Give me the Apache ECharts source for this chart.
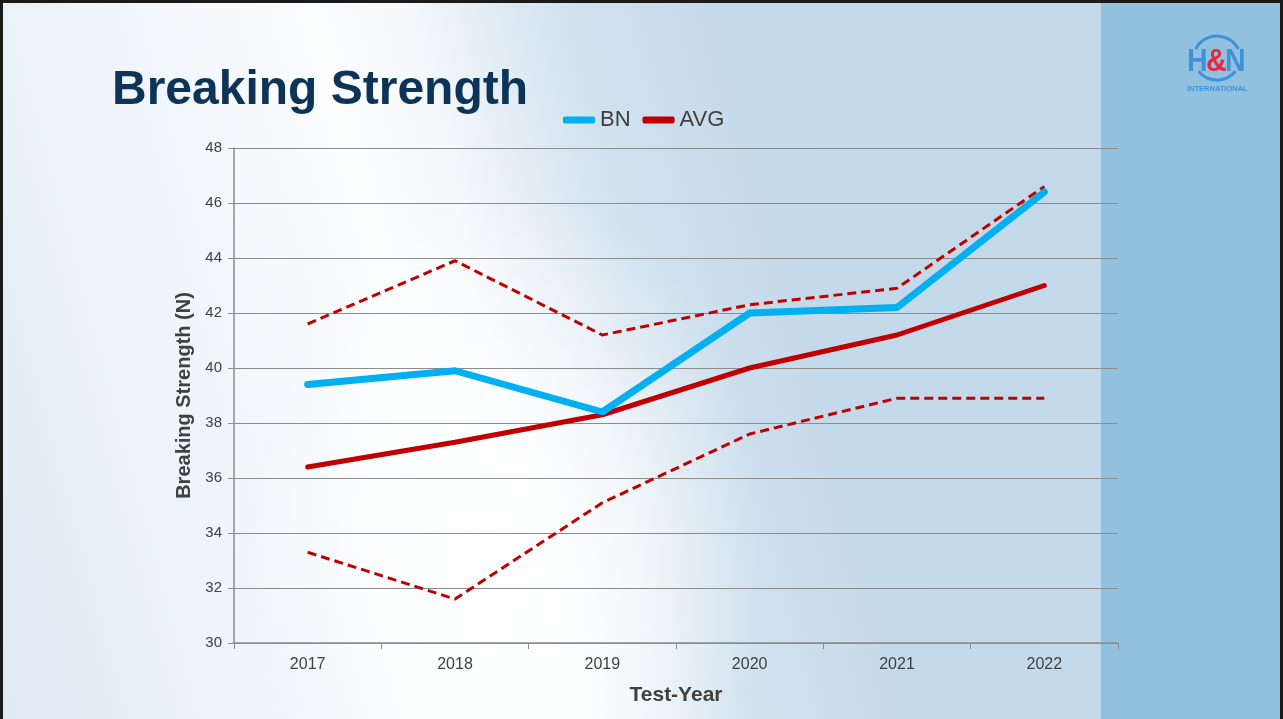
<!DOCTYPE html>
<html>
<head>
<meta charset="utf-8">
<script src="https://cdn.jsdelivr.net/npm/echarts@6/dist/echarts.min.js"></script>
<style>
  html, body { margin: 0; padding: 0; }
  #wrap {
    position: relative; width: 1283px; height: 719px; overflow: hidden; box-sizing: border-box;
    border: 3px solid #1a1a1a; border-bottom: none;
    background:
      radial-gradient(ellipse 260px 380px at 500px 560px, rgba(255,255,255,0.95) 0%, rgba(255,255,255,0.6) 50%, rgba(255,255,255,0) 100%),
      linear-gradient(75deg, #dfeaf5 0%, #eef4fa 18%, #fbfdfe 34%, #f6f9fc 40%, #d4e4f0 50%, #c4d9e9 62%, #c3d8e8 100%);
  }
  #side { position: absolute; left: 1098px; top: 0; width: 190px; height: 719px; background: #92c1e0; }
  #main { position: absolute; left: -3px; top: -3px; width: 1283px; height: 719px; }
</style>
</head>
<body>
<div id="wrap"><div id="side"></div><div id="main"></div></div>
<script>
(function () {
    // 数据
    let years = ['2017', '2018', '2019', '2020', '2021', '2022'];
    let bn = [39.4, 39.9, 38.4, 42.0, 42.2, 46.4];
    let avg = [36.4, 37.3, 38.3, 40.0, 41.2, 43.0];
    let upper = [41.6, 43.9, 41.2, 42.3, 42.9, 46.6];
    let lower = [33.3, 31.6, 35.1, 37.6, 38.9, 38.9];

    let red = '#c00000', blue = '#00b0f0', logoBlue = '#3f92da';
    let myChart = echarts.init(document.getElementById('main'), null, { renderer: 'canvas' });
    let dashed = (name, data) => ({
        name: name, type: 'line', data: data, symbol: 'none', silent: true, z: 2,
        lineStyle: { color: red, width: 3, type: [9, 5] }
    });
    // logo 字母
    let logoText = (t, x, color) => ({
        type: 'text', x: x, y: 62, scaleX: 0.92, z: 11,
        style: { text: t, fontSize: 31, fontWeight: 'bold', fill: color, fontFamily: 'Liberation Sans', verticalAlign: 'middle' }
    });
    myChart.setOption({
        backgroundColor: 'transparent',
        animation: false,
        textStyle: { fontFamily: 'Liberation Sans, Arial, sans-serif' },
        title: {
            text: 'Breaking Strength', left: 107, top: 62,
            textStyle: { fontSize: 48, fontWeight: 'bold', color: '#0d3457' }
        },
        legend: {
            data: [{ name: 'BN', icon: 'roundRect' }, { name: 'AVG', icon: 'roundRect' }],
            left: 558, top: 104, itemWidth: 32, itemHeight: 7, itemGap: 12,
            textStyle: { fontSize: 22, color: '#404040' }
        },
        grid: { left: 234, right: 165, top: 148, bottom: 76 },
        xAxis: {
            type: 'category', data: years, boundaryGap: true,
            name: 'Test-Year', nameLocation: 'middle', nameGap: 42,
            nameTextStyle: { fontSize: 21, fontWeight: 'bold', color: '#404040' },
            axisLine: { lineStyle: { color: '#8c8c8c', width: 1.5 } },
            axisTick: { show: true, length: 6, lineStyle: { color: '#8c8c8c' } },
            axisLabel: { fontSize: 16, color: '#404040', margin: 14 },
            splitLine: { show: false }
        },
        yAxis: {
            type: 'value', min: 30, max: 48, interval: 2,
            name: 'Breaking Strength (N)', nameLocation: 'middle', nameGap: 40, nameRotate: 90,
            nameTextStyle: { fontSize: 20, fontWeight: 'bold', color: '#404040' },
            axisLine: { show: true, lineStyle: { color: '#8c8c8c', width: 1.5 } },
            axisTick: { show: true, length: 6, lineStyle: { color: '#8c8c8c' } },
            axisLabel: { fontSize: 15, color: '#404040', margin: 12 },
            splitLine: { lineStyle: { color: '#8c8c8c', width: 1 } }
        },
        graphic: [
            { type: 'arc', shape: { cx: 1217, cy: 60, r: 24, startAngle: Math.PI * 1.15, endAngle: Math.PI * 1.85 },
              style: { stroke: logoBlue, lineWidth: 3, fill: null }, z: 10 },
            { type: 'arc', shape: { cx: 1217, cy: 56, r: 24, startAngle: Math.PI * 0.22, endAngle: Math.PI * 0.78 },
              style: { stroke: logoBlue, lineWidth: 3, fill: null }, z: 10 },
            logoText('H', 1187, logoBlue),
            logoText('&', 1206, '#e8283a'),
            logoText('N', 1225, logoBlue),
            { type: 'text', x: 1187, y: 85,
              style: { text: 'INTERNATIONAL', fontSize: 7.5, fontWeight: 'bold', fill: logoBlue, fontFamily: 'Liberation Sans' } }
        ],
        series: [
            dashed('upper', upper),
            dashed('lower', lower),
            { name: 'AVG', type: 'line', data: avg, symbol: 'none', z: 3,
              itemStyle: { color: red }, lineStyle: { color: red, width: 5, cap: 'round' } },
            { name: 'BN', type: 'line', data: bn, symbol: 'none', z: 4,
              itemStyle: { color: blue }, lineStyle: { color: blue, width: 7, cap: 'round' } }
        ]
    });
})();
</script>
</body>
</html>
